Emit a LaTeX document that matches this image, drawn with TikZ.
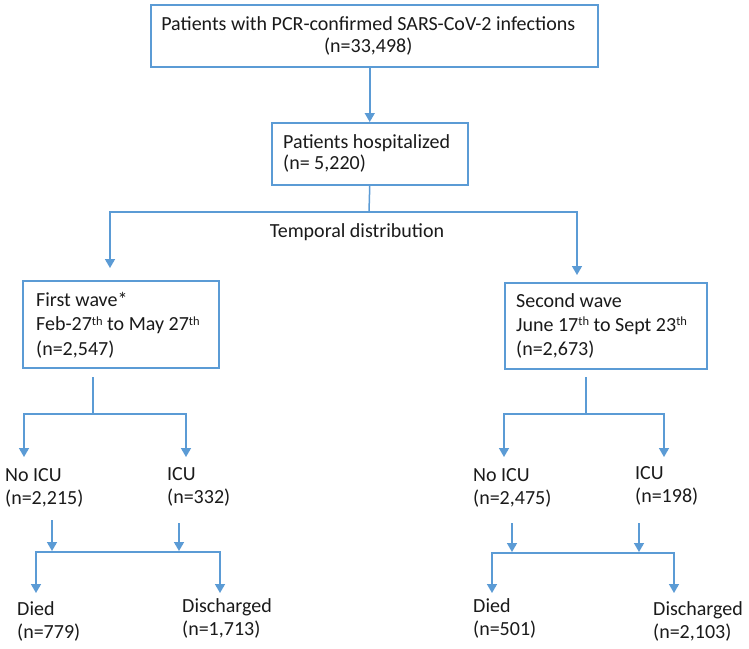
\documentclass[tikz,border=0pt]{standalone}
\usepackage{fontspec}
\setmainfont{Carlito}
\usetikzlibrary{arrows.meta}
\definecolor{lc}{HTML}{5B9BD5}
\definecolor{tx}{HTML}{1A1A1A}
\newcommand\mysup[1]{\raisebox{0.6ex}{\fontsize{12.5}{12.5}\selectfont #1}}
\begin{document}
\begin{tikzpicture}[x=1pt,y=-1pt,
 every node/.style={font=\fontsize{20}{22}\selectfont, text=tx},
 box/.style={draw=lc, line width=1.5pt, rectangle, anchor=north west, align=left, inner ysep=0pt},
 btxt/.style={anchor=west, align=left, inner sep=0pt},
 lbl/.style={anchor=west, align=left, inner sep=0pt, font=\fontsize{20}{23}\selectfont},
 arr/.style={draw=lc, line width=1.5pt, -{Triangle[length=9pt,width=10pt]}},
 conn/.style={draw=lc, line width=1.5pt}]
\fill[white] (0,0) rectangle (749,648);
\useasboundingbox (0,0) rectangle (749,648);

\node[box, minimum width=447pt, minimum height=62pt] (top) at (150,4) {};
\node[align=center, inner sep=0pt] (topt) at ([xshift=-6pt]top.center)
 {Patients with PCR-confirmed SARS-CoV-2 infections\\(n=33,498)};
\node[box, minimum width=196pt, minimum height=62pt] (hosp) at (271,122) {};
\node[btxt, font=\fontsize{20}{21}\selectfont] (hospt) at ([xshift=12pt]hosp.west)
 {Patients hospitalized\\(n= 5,220)};
\node[inner sep=0pt] (temp) at (357,232) {Temporal distribution};
\node[box, minimum width=196pt, minimum height=87pt] (fw) at (22,280) {};
\node[btxt, font=\fontsize{20}{24.5}\selectfont] (fwt) at ([xshift=14pt,yshift=-1pt]fw.west)
 {First wave*\\Feb-27\mysup{th} to May 27\mysup{th}\\(n=2,547)};
\node[box, minimum width=202pt, minimum height=86pt] (sw) at (504,282) {};
\node[btxt, font=\fontsize{20}{24}\selectfont] (swt) at ([xshift=12pt]sw.west)
 {Second wave\\June 17\mysup{th} to Sept 23\mysup{th}\\(n=2,673)};

\node[lbl] (noicu1) at (5,488) {No ICU\\(n=2,215)};
\node[lbl] (icu1) at (167,487) {ICU\\(n=332)};
\node[lbl] (died1) at (17,621) {Died\\(n=779)};
\node[lbl] (dis1) at (182,618) {Discharged\\(n=1,713)};
\node[lbl] (noicu2) at (473,488) {No ICU\\(n=2,475)};
\node[lbl] (icu2) at (635,486) {ICU\\(n=198)};
\node[lbl] (died2) at (473,618) {Died\\(n=501)};
\node[lbl] (dis2) at (653,621) {Discharged\\(n=2,103)};

% top to hospitalized
\draw[arr] (hosp.north |- top.south) -- (hosp.north);
% split to waves
\coordinate (s1) at (369,212);
\coordinate (fwin) at (110,268);
\coordinate (swin) at (577,275);
\draw[conn] (hosp.south) -- (s1);
\draw[arr] (s1) -| (fwin);
\draw[arr] (s1) -| (swin);

% first wave split
\coordinate (fwout) at (93,377);
\coordinate (s2) at (93,414);
\coordinate (n1in) at (24,457);
\coordinate (i1in) at (186,457);
\draw[conn] (fwout) -- (s2);
\draw[arr] (s2) -| (n1in);
\draw[arr] (s2) -| (i1in);
\coordinate (n1out) at (52,520);
\coordinate (n1end) at (52,551);
\coordinate (i1out) at (179,523);
\coordinate (i1end) at (179,551);
\draw[arr] (n1out) -- (n1end);
\draw[arr] (i1out) -- (i1end);
\coordinate (m1) at (128,552);
\coordinate (d1in) at (36,593);
\coordinate (c1in) at (220,593);
\draw[arr] (m1) -| (d1in);
\draw[arr] (m1) -| (c1in);

% second wave split
\coordinate (swout) at (586,377);
\coordinate (s3) at (586,414);
\coordinate (n2in) at (504,457);
\coordinate (i2in) at (664,457);
\draw[conn] (swout) -- (s3);
\draw[arr] (s3) -| (n2in);
\draw[arr] (s3) -| (i2in);
\coordinate (n2out) at (512,523);
\coordinate (n2end) at (512,552);
\coordinate (i2out) at (639,523);
\coordinate (i2end) at (639,552);
\draw[arr] (n2out) -- (n2end);
\draw[arr] (i2out) -- (i2end);
\coordinate (m2) at (583,553);
\coordinate (d2in) at (492,593);
\coordinate (c2in) at (674,593);
\draw[arr] (m2) -| (d2in);
\draw[arr] (m2) -| (c2in);
\end{tikzpicture}
\end{document}
